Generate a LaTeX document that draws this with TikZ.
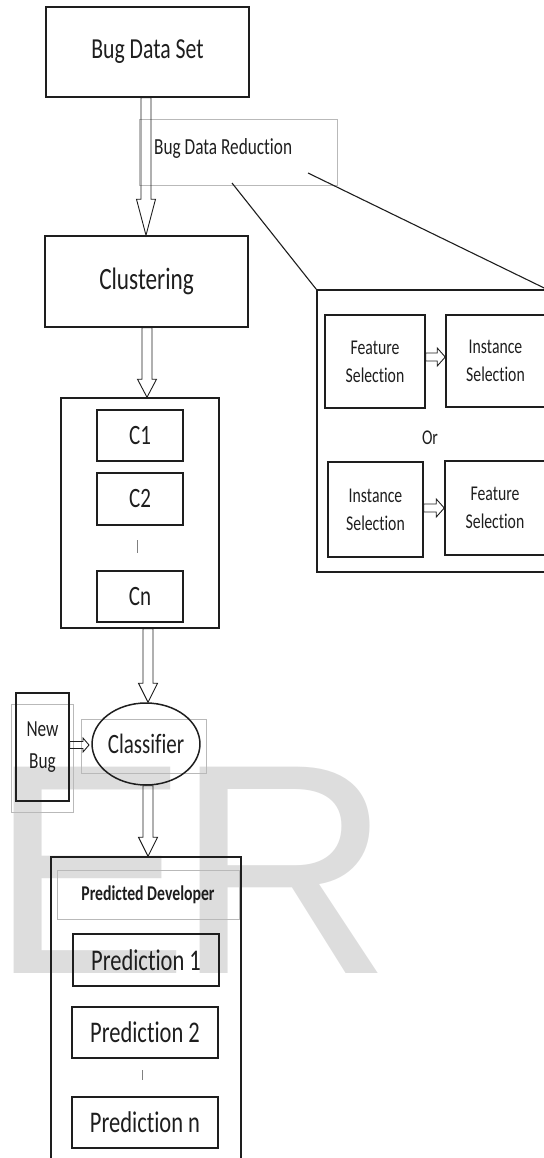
\documentclass[tikz,border=0pt]{standalone}
\usepackage{fontspec}
\setmainfont{Carlito}[FakeStretch=0.75, Ligatures={NoCommon}]
\newfontfamily\wmfont{Liberation Sans}
\usetikzlibrary{calc,shapes.geometric}
\definecolor{ink}{RGB}{30,30,30}
\definecolor{thin}{RGB}{185,185,185}
\definecolor{wm}{RGB}{221,221,221}
\tikzset{
  box/.style={draw=ink, line width=1.5pt, inner sep=0pt, text=ink},
  gbox/.style={draw=thin, line width=0.8pt, inner sep=0pt},
  harrow/.style={draw=ink, line width=0.9pt},
  link/.style={draw=ink, line width=1.1pt},
  tickmark/.style={draw=gray, line width=0.8pt},
  lbl/.style={inner sep=0pt, text=ink},
}
% vertical hollow arrow: x, from, to, shaft half, head half, head length
\newcommand\hollowv[6]{\draw[harrow] let \p1=(#2 -| #1,0), \p2=(#3 -| #1,0) in
  (\x1-#4,\y1) -- (\x1-#4,\y2+#6) -- (\x1-#5,\y2+#6) -- (\x2,\y2) -- (\x1+#5,\y2+#6) -- (\x1+#4,\y2+#6) -- (\x1+#4,\y1) -- cycle;}
% horizontal hollow arrow: y, from, to, shaft half, head half, head length
\newcommand\hollowh[6]{\draw[harrow] let \p1=(#2 |- 0,#1), \p2=(#3 |- 0,#1) in
  (\x1,\y1-#4) -- (\x2-#6,\y1-#4) -- (\x2-#6,\y1-#5) -- (\x2,\y1) -- (\x2-#6,\y1+#5) -- (\x2-#6,\y1+#4) -- (\x1,\y1+#4) -- cycle;}
\begin{document}
\begin{tikzpicture}[x=1pt, y=-1pt]
\useasboundingbox (0,0) rectangle (543,1158);
% watermark
\node[anchor=base west, inner sep=0pt, text=wm, font=\wmfont\fontsize{300}{300}\selectfont] (wmark) at (-11,973) {E\kern-14pt R};

% left column
\node[box, minimum width=203pt, minimum height=90pt, font=\fontsize{29}{29}\selectfont] (bds) at (147.5,52) {Bug Data Set};
\node[gbox, minimum width=198pt, minimum height=66pt] (bdr) at (238,152) {};
\node[lbl, anchor=base west, font=\fontsize{23}{23}\selectfont] (bdrt) at (154,155) {Bug Data Reduction};
\node[box, minimum width=203pt, minimum height=91pt, font=\fontsize{31}{31}\selectfont] (clus) at (146.5,281.5) {Clustering};

\node[box, minimum width=158pt, minimum height=230pt] (cbox) at (140,513) {};
\node[box, minimum width=86pt, minimum height=51pt, font=\fontsize{28}{28}\selectfont] (c1) at (140,435.5) {C1};
\node[box, minimum width=86pt, minimum height=52pt, font=\fontsize{28}{28}\selectfont] (c2) at (140,499) {C2};
\node[box, minimum width=86pt, minimum height=51pt, font=\fontsize{28}{28}\selectfont] (cn) at (140,596.5) {Cn};
\draw[tickmark] (137,540) -- (137,553);

\node[gbox, minimum width=125pt, minimum height=54pt] (clsg) at (143.5,746) {};
\node[box, ellipse, minimum width=102pt, minimum height=82pt, font=\fontsize{28}{28}\selectfont] (cls) at (146,744) {Classifier};
\node[gbox, minimum width=62pt, minimum height=108pt] (nbg) at (42,758) {};
\node[box, minimum width=53pt, minimum height=108pt, align=center, font=\fontsize{23}{32}\selectfont] (nb) at (42.5,747) {New\\Bug};
\coordinate (nbend) at (89,745);

\node[box, minimum width=190pt, minimum height=303pt] (pred) at (146,1008.5) {};
\node[gbox, minimum width=182pt, minimum height=49pt, text=ink, font=\bfseries\fontsize{21}{21}\selectfont] (pd) at (148,894.5) {Predicted Developer};
\node[box, minimum width=146pt, minimum height=52pt, font=\fontsize{30}{30}\selectfont] (p1) at (146,960) {Prediction 1};
\node[box, minimum width=146pt, minimum height=51pt, font=\fontsize{30}{30}\selectfont] (p2) at (145,1032.5) {Prediction 2};
\node[box, minimum width=146pt, minimum height=51pt, font=\fontsize{30}{30}\selectfont] (pn) at (145,1122.5) {Prediction n};
\draw[tickmark] (142,1070) -- (142,1080);

% selection box (right)
\node[box, minimum width=229pt, minimum height=282pt] (sel) at (431.5,431) {};
\node[box, minimum width=100pt, minimum height=93pt, align=center, font=\fontsize{21}{28}\selectfont] (fs1) at (375,361.5) {Feature\\Selection};
\node[box, minimum width=99pt, minimum height=92pt, align=center, font=\fontsize{21}{28}\selectfont] (is1) at (495.5,361) {Instance\\Selection};
\node[lbl, font=\fontsize{21}{21}\selectfont] (or) at (430,438) {Or};
\node[box, minimum width=95pt, minimum height=95pt, align=center, font=\fontsize{21}{28}\selectfont] (is2) at (375.5,509.5) {Instance\\Selection};
\node[box, minimum width=100pt, minimum height=94pt, align=center, font=\fontsize{21}{28}\selectfont] (fs2) at (495,508) {Feature\\Selection};

% zoom lines
\coordinate (z1) at (232,183);
\coordinate (z2) at (308,173);
\draw[link] (z1) -- (sel.north west);
\draw[link] (z2) -- (sel.north east);

% hollow arrows
\hollowv{146}{bds.south}{clus.north}{5pt}{9.5pt}{36pt}
\hollowv{147}{clus.south}{cbox.north}{5pt}{9.5pt}{18pt}
\hollowv{148}{cbox.south}{cls.north}{5pt}{9.5pt}{19pt}
\hollowv{148}{cls.south}{pred.north}{5pt}{9.5pt}{19pt}
\hollowh{357}{fs1.east}{is1.west}{4pt}{9pt}{8pt}
\hollowh{508}{is2.east}{fs2.west}{4pt}{9pt}{8pt}
\hollowh{745}{nb.east}{nbend}{3.5pt}{7pt}{6pt}
\end{tikzpicture}
\end{document}
